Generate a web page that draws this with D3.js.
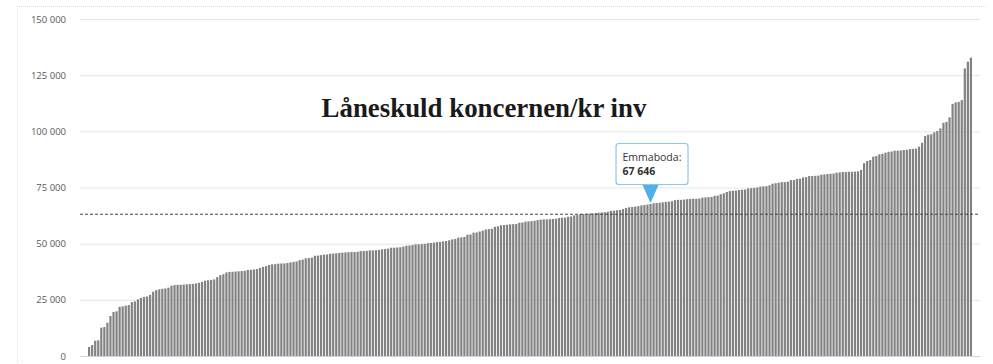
<!DOCTYPE html>
<html>
<head>
<meta charset="utf-8">
<script src="https://cdn.jsdelivr.net/npm/d3@7"></script>
<style>
  html, body { margin: 0; padding: 0; background: #fff; }
  svg { display: block; }
</style>
</head>
<body>
<svg id="chart" width="993" height="364"></svg>
<script>
// Låneskuld koncernen per invånare (kr), kommunerna sorterade stigande
const values = [
  4000, 4900, 6800, 7000, 12600, 12900, 14800, 17800, 19600, 19900,
  21900, 22100, 22400, 22700, 24000, 24300, 25200, 25900, 26300, 26500,
  27200, 28600, 29300, 29700, 29900, 30100, 30400, 31300, 31600, 31700,
  31700, 31800, 31900, 32000, 32100, 32300, 32600, 33000, 33500, 33700,
  33900, 34100, 35100, 36000, 36400, 37200, 37400, 37500, 37600, 37700,
  37800, 37900, 38300, 38400, 38500, 38700, 39200, 39700, 40000, 40500,
  40800, 40900, 41100, 41200, 41200, 41400, 41700, 41900, 42100, 42700,
  42900, 43500, 43600, 43800, 44600, 44700, 44900, 45100, 45200, 45500,
  45600, 45700, 45900, 46000, 46100, 46200, 46300, 46300, 46400, 46700,
  46700, 46800, 47000, 47000, 47100, 47200, 47500, 47600, 47800, 48200,
  48200, 48300, 48400, 48700, 49100, 49200, 49400, 49700, 49700, 49800,
  49900, 50200, 50300, 50500, 50700, 50800, 51000, 51200, 51500, 51900,
  52100, 52700, 52800, 53000, 54000, 54100, 54900, 55000, 55400, 55800,
  56300, 56500, 56600, 57500, 57700, 58200, 58300, 58400, 58600, 58700,
  58800, 59300, 59400, 59800, 59900, 60000, 60200, 60500, 60700, 60800,
  60800, 60900, 61000, 61100, 61400, 61500, 61600, 62000, 62100, 62600,
  62700, 63100, 63200, 63300, 63400, 63500, 63600, 63800, 63900, 64000,
  64200, 64600, 64700, 64900, 65000, 65400, 65900, 66200, 66300, 66500,
  66700, 67000, 67200, 67400, 67646, 68000, 68100, 68200, 68400, 68600,
  68700, 68900, 69400, 69500, 69500, 69600, 69800, 69900, 70000, 70000,
  70100, 70500, 70600, 70700, 70800, 71300, 71400, 72000, 72400, 73000,
  73400, 73500, 73600, 73900, 74000, 74100, 74600, 74700, 74800, 75000,
  75400, 75500, 75600, 76000, 76700, 76900, 77100, 77400, 77400, 77600,
  78300, 78300, 78800, 78900, 79500, 79600, 80100, 80100, 80200, 80300,
  80700, 80800, 81000, 81100, 81200, 81600, 81700, 81900, 81900, 82000,
  82000, 82100, 82200, 82800, 85800, 86800, 87200, 88700, 89000, 89800,
  90000, 90500, 90900, 91000, 91400, 91400, 91500, 91700, 91800, 92100,
  92200, 92300, 93200, 94900, 97900, 98500, 98700, 99600, 100200, 101300,
  103800, 104200, 106200, 112200, 112900, 113100, 113900, 128000, 131000, 132800
];

// Rikssnitt (streckad linje)
const average = 63100;

// Kommunen som visas i tooltip
const highlightName = "Emmaboda";
const highlightIndex = 184;

const yTicks = [0, 25000, 50000, 75000, 100000, 125000, 150000];
const titleText = "Låneskuld koncernen/kr inv";

const svg = d3.select("#chart");

const x = d3.scaleBand()
  .domain(d3.range(values.length))
  .range([88, 972])
  .paddingInner(0.28)
  .paddingOuter(0);

const y = d3.scaleLinear()
  .domain([0, 150000])
  .range([356, 19]);

const fmt = v => d3.format(",")(v).replace(/,/g, " ");

// Outer dotted frame (top and left)
svg.append("line")
  .attr("x1", 17).attr("x2", 987).attr("y1", 6.5).attr("y2", 6.5)
  .attr("stroke", "#dcdcdc").attr("stroke-dasharray", "1,1");
svg.append("line")
  .attr("x1", 17.5).attr("x2", 17.5).attr("y1", 6).attr("y2", 364)
  .attr("stroke", "#dcdcdc").attr("stroke-dasharray", "1,1");

// Y axis: grid lines and labels
const yAxis = d3.axisLeft(y)
  .tickValues(yTicks)
  .tickSize(-(980 - 80))
  .tickPadding(14)
  .tickFormat(fmt);

const gy = svg.append("g")
  .attr("transform", "translate(80,0)")
  .call(yAxis);
gy.select(".domain").remove();
gy.selectAll(".tick line")
  .attr("stroke", "#e6e6e6")
  .attr("stroke-width", 1);
gy.selectAll(".tick text")
  .attr("fill", "#5a5a5a")
  .style("font-family", "'Open Sans', 'Liberation Sans', sans-serif")
  .style("font-size", "9.5px");

// Baseline
svg.append("line")
  .attr("x1", 80).attr("x2", 980)
  .attr("y1", y(0) + 0.5).attr("y2", y(0) + 0.5)
  .attr("stroke", "#ccd6eb");

// Bars
svg.append("g")
  .selectAll("rect")
  .data(values)
  .join("rect")
  .attr("x", (d, i) => x(i))
  .attr("width", x.bandwidth())
  .attr("y", d => y(d))
  .attr("height", d => y(0) - y(d))
  .attr("fill", "#828282");

// Average line
svg.append("line")
  .attr("x1", 80).attr("x2", 979)
  .attr("y1", y(average)).attr("y2", y(average))
  .attr("stroke", "#444")
  .attr("stroke-width", 1)
  .attr("stroke-dasharray", "3,2");

// Title
const title = svg.append("text")
  .attr("x", 484)
  .attr("y", 117)
  .attr("text-anchor", "middle")
  .attr("fill", "#1a1a1a")
  .style("font-family", "'Liberation Serif', 'DejaVu Serif', serif")
  .style("font-weight", "bold")
  .style("font-size", "24px")
  .text(titleText);
const tw = title.node().getComputedTextLength();
title.style("font-size", (24 * 325 / tw).toFixed(2) + "px");

// Tooltip for the highlighted municipality
const hv = values[highlightIndex];
const hx = x(highlightIndex) + x.bandwidth() / 2;
const hy = y(hv);
const boxW = 72, boxH = 41;
const boxX = hx - 35, boxY = hy - 61;

const tip = svg.append("g");
tip.append("rect")
  .attr("x", boxX + 0.5).attr("y", boxY + 0.5)
  .attr("width", boxW).attr("height", boxH)
  .attr("rx", 3).attr("ry", 3)
  .attr("fill", "#fff")
  .attr("stroke", "#8cc8ec")
  .attr("stroke-width", 1.2);
tip.append("path")
  .attr("d", `M${hx - 8},${boxY + boxH + 1} L${hx + 8},${boxY + boxH + 1} L${hx},${hy - 1} Z`)
  .attr("fill", "#4fb0e6");
tip.append("text")
  .attr("x", boxX + 7).attr("y", boxY + 18)
  .attr("fill", "#333")
  .style("font-family", "'Open Sans', 'Liberation Sans', sans-serif")
  .style("font-size", "10.5px")
  .text(highlightName + ":");
tip.append("text")
  .attr("x", boxX + 7).attr("y", boxY + 32)
  .attr("fill", "#333")
  .style("font-family", "'Open Sans', 'Liberation Sans', sans-serif")
  .style("font-size", "10.5px")
  .style("font-weight", "bold")
  .text(fmt(hv));
</script>
</body>
</html>
